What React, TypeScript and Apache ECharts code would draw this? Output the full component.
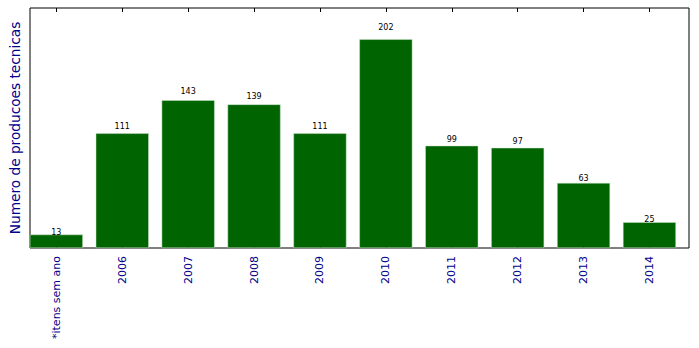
import React, { useEffect, useRef } from "react";
import * as echarts from "echarts";

const categories = ["*itens sem ano", "2006", "2007", "2008", "2009", "2010", "2011", "2012", "2013", "2014"];
const values = [13, 111, 143, 139, 111, 202, 99, 97, 63, 25];
const tickPositions = [0, 1, 2, 3, 4, 5, 6, 7, 8, 9];

const GRID_H = 240;
const Y_MAX = 202 * 1.15;

export default function App() {
  const ref = useRef<HTMLDivElement>(null);
  useEffect(() => {
    document.body.style.margin = "0";
    const chart = echarts.init(ref.current!, null, { renderer: "svg" });
    const font = "DejaVu Sans";
    const xCommon = {
      type: "value" as const,
      min: -0.4,
      max: 9.6,
      splitLine: { show: false },
      axisLine: { show: false },
    };
    chart.setOption({
      animation: false,
      grid: { left: 30, top: 8, width: 659, height: GRID_H, show: true, borderColor: "#000", borderWidth: 1, backgroundColor: "transparent" },
      xAxis: [
        {
          ...xCommon,
          position: "bottom",
          axisTick: { show: true, inside: true, length: 4, customValues: tickPositions, lineStyle: { color: "#000" } },
          axisLabel: {
            show: true,
            customValues: tickPositions,
            rotate: 90,
            margin: 8,
            fontSize: 11,
            fontFamily: font,
            color: "#00008B",
            formatter: (v: number) => categories[Math.round(v)] ?? "",
          },
        },
        {
          ...xCommon,
          position: "top",
          axisTick: { show: true, inside: true, length: 4, customValues: tickPositions, lineStyle: { color: "#000" } },
          axisLabel: { show: false },
        },
      ],
      yAxis: {
        type: "value",
        min: 0,
        max: Y_MAX,
        axisLine: { show: false },
        axisTick: { show: false },
        axisLabel: { show: false },
        splitLine: { show: false },
        name: "Numero de producoes tecnicas",
        nameLocation: "middle",
        nameGap: 8,
        nameTextStyle: { fontSize: 13.7, fontFamily: font, color: "#00008B" },
      },
      series: [
        {
          type: "bar",
          xAxisIndex: 0,
          barWidth: 53,
          itemStyle: { color: "#006400", borderColor: "#c8e6c8", borderWidth: 0.5 },
          data: values.map((v, i) => ({
            value: [i, v],
            label: {
              show: true,
              position: "top",
              distance: (v * 0.05 * GRID_H) / Y_MAX - 3,
              fontSize: 8,
              fontFamily: font,
              color: "#000",
              formatter: String(v),
            },
          })),
        },
      ],
    });
    return () => chart.dispose();
  }, []);
  return <div ref={ref} style={{ width: 699, height: 348 }} />;
}
